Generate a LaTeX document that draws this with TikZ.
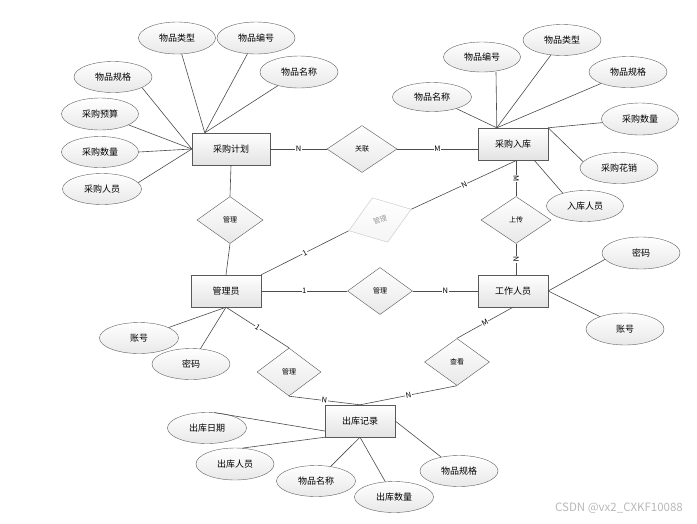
\documentclass[tikz,border=0pt]{standalone}
\usepackage{fontspec}
\setmainfont{Noto Sans CJK SC}
\usetikzlibrary{shapes.geometric,shadows}
\tikzset{
  entity/.style={rectangle,draw=gray!70!black,top color=white,bottom color=gray!22,
    drop shadow={shadow xshift=1.2pt,shadow yshift=-1.2pt,opacity=.35},
    minimum width=70pt,minimum height=32pt,font=\fontsize{9}{10}\selectfont},
  attr/.style={ellipse,draw=gray!75!black,top color=white,bottom color=gray!18,
    minimum width=78pt,minimum height=31pt,inner sep=0pt,font=\fontsize{9}{10}\selectfont},
  rel/.style={diamond,draw=gray!70!black,top color=white,bottom color=gray!18,
    minimum width=66pt,minimum height=47pt,inner sep=0pt,font=\fontsize{7}{8}\selectfont},
  card/.style={fill=white,inner sep=.6pt,sloped,font=\fontsize{7.5}{8}\selectfont},
  link/.style={draw=gray!60!black,line width=.6pt}
}
\begin{document}
\begin{tikzpicture}[x=1pt,y=-1pt]
\useasboundingbox[fill=white] (0,0) rectangle (697,523);
\node[entity,minimum width=78pt] (plan) at (231,149) {采购计划};
\node[entity] (stock) at (513,144) {采购入库};
\node[entity] (admin) at (226,291) {管理员};
\node[entity] (staff) at (513,291) {工作人员};
\node[entity] (record) at (360,421) {出库记录};
\node[rel,minimum width=70pt] (assoc) at (362,149) {关联};
\node[rel] (manageA) at (230,220) {管理};
\node[rel,draw=gray!45,text=gray!80,bottom color=gray!8,rotate=19] (manageB) at (380,220) {管理};
\node[rel,minimum width=70pt] (upload) at (516,220) {上传};
\node[rel,minimum width=65pt] (manageC) at (380,291) {管理};
\node[rel,minimum width=64pt,minimum height=48pt] (manageD) at (289,372) {管理};
\node[rel,minimum width=65pt] (view) at (457,362) {查看};
\node[attr,minimum width=77pt,minimum height=32pt] (ptype) at (177,38) {物品类型};
\node[attr,minimum height=32pt] (pno) at (256,38) {物品编号};
\node[attr,minimum height=32pt] (pname) at (299,72) {物品名称};
\node[attr] (pspec) at (113,77) {物品规格};
\node[attr,minimum width=77pt,minimum height=32pt] (pbudget) at (100,114) {采购预算};
\node[attr,minimum width=77pt] (pqty) at (100,152) {采购数量};
\node[attr,minimum width=79pt] (pstaff) at (102,189) {采购人员};
\node[attr,minimum width=77pt,minimum height=30pt] (sno) at (482,57) {物品编号};
\node[attr] (stype) at (562,40) {物品类型};
\node[attr] (sspec) at (628,72) {物品规格};
\node[attr,minimum width=79pt,minimum height=29pt] (sname) at (432,97) {物品名称};
\node[attr,minimum width=77pt,minimum height=32pt] (sqty) at (640,119) {采购数量};
\node[attr] (scost) at (619,168) {采购花销};
\node[attr,minimum width=77pt] (sstaff) at (585,206) {入库人员};
\node[attr,minimum width=79pt] (aacc) at (139,338) {账号};
\node[attr] (apwd) at (191,364) {密码};
\node[attr,minimum height=32pt] (wpwd) at (641,253) {密码};
\node[attr,minimum width=78pt,minimum height=32pt] (wacc) at (625,329) {账号};
\node[attr,minimum width=79pt] (rdate) at (207,428) {出库日期};
\node[attr,minimum width=78pt,minimum height=32pt] (rstaff) at (235,464) {出库人员};
\node[attr,minimum width=79pt] (rname) at (316,481) {物品名称};
\node[attr,minimum width=79pt] (rqty) at (394,497) {出库数量};
\node[attr] (rspec) at (459,471) {物品规格};
\node[text=gray!55,font=\fontsize{11.5}{12}\selectfont] (mark) at (619,508) {CSDN @vx2\_CXKF10088};
\draw[link] (plan) -- node[card] {N} (assoc);
\draw[link] (assoc.east) -- node[card] {M} (assoc.east -| stock.west);
\draw[link] (plan.south) -- (manageA.north);
\draw[link] (manageA.south) -- (admin.north);
\draw[link] (admin.north east) -- node[card] {1} (manageB.west);
\draw[link] (manageB.east) -- node[card] {N} ([xshift=4pt]stock.south);
\draw[link] (upload.north |- stock.south) -- node[card] {M} (upload.north);
\draw[link] (upload.south) -- node[card] {N} (upload.south |- staff.north);
\draw[link] (admin) -- node[card] {1} (manageC);
\draw[link] (manageC) -- node[card] {N} (staff);
\draw[link] (admin.south) -- node[card] {1} (manageD.north);
\draw[link] (manageD.south) -- node[card] {N} (record.north);
\draw[link] (staff.south) -- node[card] {M} (view.north);
\draw[link] (view.south) -- node[card] {N} (record.north);
\draw[link] (ptype) -- ([xshift=13pt]plan.north west);
\draw[link] (pno) -- ([xshift=13pt]plan.north west);
\draw[link] (pname) -- ([xshift=13pt]plan.north west);
\draw[link] (pspec.-20) -- (plan.west);
\draw[link] (pbudget) -- (plan.west);
\draw[link] (pqty.east) -- (plan.west);
\draw[link] (pstaff.10) -- (plan.west);
\draw[link] (sname) -- ([xshift=19pt]stock.north west);
\draw[link] ([xshift=14pt]sno.south) -- ([xshift=19pt]stock.north west);
\draw[link] (stype) -- ([xshift=19pt]stock.north west);
\draw[link] (sspec) -- ([xshift=19pt]stock.north west);
\draw[link] (sqty) -- (stock.north east);
\draw[link] (scost.170) -- (stock.north east);
\draw[link] (sstaff.150) -- ([xshift=-14pt]stock.south east);
\draw[link] (aacc) -- (admin.south);
\draw[link] (apwd) -- (admin.south);
\draw[link] (wpwd.190) -- (staff.east);
\draw[link] (wacc) -- (staff.east);
\draw[link] (rdate.65) -- ([yshift=-10pt]record.west);
\draw[link] (rstaff.65) -- (record.south west);
\draw[link] (rname) -- (record.south);
\draw[link] (rqty) -- (record.south);
\draw[link] (rspec) -- (record.east);
\end{tikzpicture}
\end{document}
